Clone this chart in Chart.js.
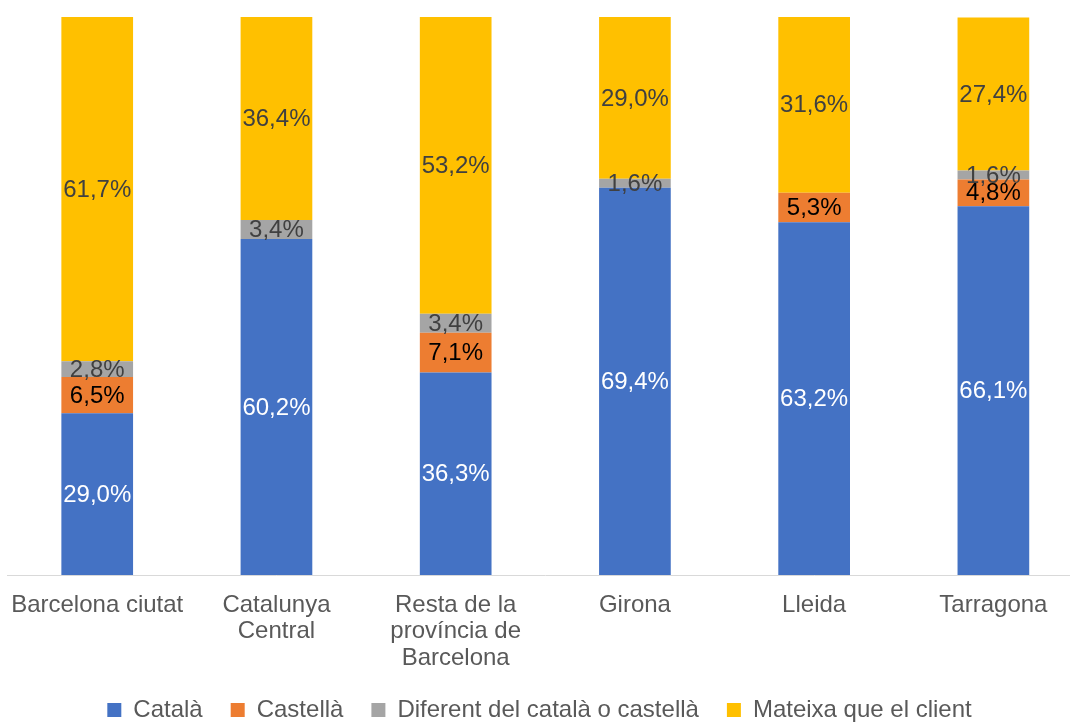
<!DOCTYPE html>
<html>
<head>
<meta charset="utf-8">
<script src="https://cdn.jsdelivr.net/npm/chart.js@4"></script>
<style>
  html, body { margin: 0; padding: 0; background: #fff; overflow: hidden; }
  #wrap { width: 1089px; height: 722px; margin-left: -6px; }
</style>
</head>
<body>
<div id="wrap"><canvas id="chart" width="1089" height="722"></canvas></div>
<script>
// Categories (multi-line like the original)
const categories = [
    'Barcelona ciutat',
    ['Catalunya', 'Central'],
    ['Resta de la', 'província de', 'Barcelona'],
    'Girona',
    'Lleida',
    'Tarragona'
];

// Percentages per series
const catala = [29.0, 60.2, 36.3, 69.4, 63.2, 66.1];
const castella = [6.5, 0, 7.1, 0, 5.3, 4.8];
const diferent = [2.8, 3.4, 3.4, 1.6, 0, 1.6];
const mateixa = [61.7, 36.4, 53.2, 29.0, 31.6, 27.4];

const seriesNames = ['Català', 'Castellà', 'Diferent del català o castellà', 'Mateixa que el client'];
const seriesColors = ['#4472C4', '#ED7D31', '#A5A5A5', '#FFC000'];
const labelColors = ['#FFFFFF', '#000000', '#404040', '#404040'];

const FONT = '"Liberation Sans", Arial, sans-serif';

// Etichette dei valori al centro di ogni segmento
const valueLabels = {
    id: 'valueLabels',
    afterDatasetsDraw(chart) {
        const ctx = chart.ctx;
        ctx.save();
        ctx.font = '24px ' + FONT;
        ctx.textAlign = 'center';
        ctx.textBaseline = 'middle';
        chart.data.datasets.forEach((ds, i) => {
            const meta = chart.getDatasetMeta(i);
            meta.data.forEach((bar, j) => {
                const v = ds.data[j];
                if (!v) return;
                const y = (bar.y + bar.base) / 2;
                ctx.fillStyle = labelColors[i];
                ctx.fillText(v.toFixed(1).replace('.', ',') + '%', bar.x, y + 1);
            });
        });
        ctx.restore();
    }
};

const datasets = [catala, castella, diferent, mateixa].map((d, i) => ({
    label: seriesNames[i],
    data: d,
    backgroundColor: seriesColors[i],
    borderWidth: 0,
    categoryPercentage: 1,
    barPercentage: 0.4
}));

new Chart(document.getElementById('chart').getContext('2d'), {
    type: 'bar',
    data: { labels: categories, datasets: datasets },
    options: {
        responsive: false,
        animation: false,
        layout: { padding: { top: 17, left: 2, right: 0, bottom: -10 } },
        plugins: {
            legend: {
                position: 'bottom',
                labels: {
                    color: '#595959',
                    font: { family: FONT, size: 24 },
                    boxWidth: 14,
                    boxHeight: 14,
                    padding: 28
                }
            },
            tooltip: { enabled: false }
        },
        scales: {
            x: {
                stacked: true,
                grid: { display: false, drawTicks: false },
                border: { color: '#D9D9D9', width: 1 },
                ticks: {
                    color: '#595959',
                    font: { family: FONT, size: 24, lineHeight: 1.1 },
                    padding: 17,
                    maxRotation: 0,
                    autoSkip: false
                },
                afterFit(scale) {
                    scale.height = 95;
                }
            },
            y: {
                stacked: true,
                min: 0,
                max: 100,
                display: false
            }
        }
    },
    plugins: [valueLabels]
});
</script>
</body>
</html>
